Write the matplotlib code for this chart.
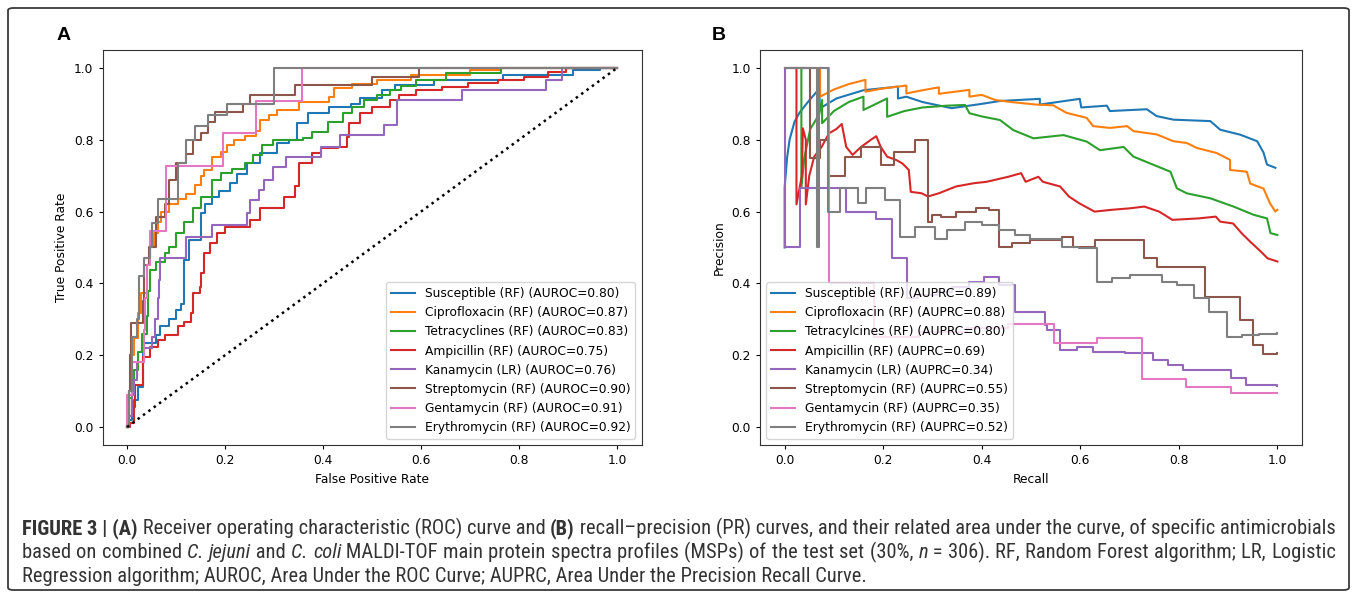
import re
import matplotlib
matplotlib.use("Agg")
import matplotlib.pyplot as plt
from matplotlib.patches import FancyBboxPatch

W, H = 1357, 598

# ---- panel A: ROC curves, (fpr, tpr) corner points
roc_names = ["Susceptible (RF)", "Ciprofloxacin (RF)", "Tetracyclines (RF)", "Ampicillin (RF)",
             "Kanamycin (LR)", "Streptomycin (RF)", "Gentamycin (RF)", "Erythromycin (RF)"]
auroc = [0.80, 0.87, 0.83, 0.75, 0.76, 0.90, 0.91, 0.92]

roc_susceptible = [(0, 0), (0.005, 0.02), (0.01, 0.04), (0.015, 0.075), (0.022, 0.112), (0.033, 0.233),
                   (0.059, 0.256), (0.068, 0.28), (0.085, 0.30), (0.10, 0.326), (0.11, 0.344), (0.117, 0.465),
                   (0.126, 0.52), (0.15, 0.595), (0.16, 0.62), (0.174, 0.642), (0.187, 0.656), (0.21, 0.68),
                   (0.225, 0.705), (0.245, 0.734), (0.272, 0.762), (0.307, 0.79), (0.33, 0.80), (0.347, 0.846),
                   (0.369, 0.874), (0.413, 0.892), (0.457, 0.90), (0.475, 0.915), (0.52, 0.939), (0.546, 0.953),
                   (0.626, 0.967), (0.767, 0.98), (0.91, 0.994), (0.966, 1.0), (1, 1)]
roc_cipro = [(0, 0), (0.005, 0.1), (0.01, 0.2), (0.015, 0.247), (0.022, 0.317), (0.028, 0.372), (0.04, 0.45),
             (0.046, 0.5), (0.055, 0.54), (0.064, 0.57), (0.07, 0.6), (0.086, 0.62), (0.104, 0.635), (0.12, 0.65),
             (0.139, 0.675), (0.15, 0.70), (0.157, 0.716), (0.174, 0.753), (0.192, 0.765), (0.205, 0.785),
             (0.219, 0.80), (0.24, 0.81), (0.263, 0.825), (0.272, 0.855), (0.29, 0.87), (0.307, 0.883),
             (0.351, 0.906), (0.413, 0.92), (0.422, 0.943), (0.46, 0.955), (0.51, 0.966), (0.58, 0.98),
             (0.70, 0.994), (0.763, 1.0), (1, 1)]
roc_tetra = [(0, 0), (0.005, 0.08), (0.01, 0.13), (0.015, 0.16), (0.022, 0.21), (0.03, 0.26), (0.04, 0.31),
             (0.043, 0.38), (0.046, 0.437), (0.06, 0.46), (0.077, 0.484), (0.086, 0.50), (0.1, 0.54),
             (0.117, 0.572), (0.135, 0.609), (0.152, 0.642), (0.174, 0.688), (0.192, 0.707), (0.215, 0.72),
             (0.24, 0.735), (0.258, 0.758), (0.275, 0.785), (0.298, 0.80), (0.36, 0.805), (0.378, 0.823),
             (0.41, 0.85), (0.44, 0.874), (0.46, 0.89), (0.484, 0.91), (0.51, 0.925), (0.537, 0.939),
             (0.56, 0.95), (0.59, 0.967), (0.652, 0.985), (0.763, 1.0), (1, 1)]
roc_ampi = [(0, 0), (0.006, 0.01), (0.015, 0.057), (0.017, 0.117), (0.033, 0.196), (0.046, 0.224),
            (0.064, 0.242), (0.077, 0.256), (0.105, 0.28), (0.117, 0.293), (0.13, 0.317), (0.135, 0.372),
            (0.148, 0.39), (0.15, 0.428), (0.157, 0.484), (0.17, 0.512), (0.183, 0.54), (0.20, 0.558),
            (0.25, 0.577), (0.272, 0.609), (0.32, 0.642), (0.342, 0.67), (0.351, 0.734), (0.378, 0.762),
            (0.396, 0.776), (0.43, 0.78), (0.449, 0.809), (0.454, 0.846), (0.475, 0.874), (0.50, 0.892),
            (0.537, 0.91), (0.555, 0.925), (0.59, 0.939), (0.643, 0.948), (0.696, 0.957), (0.758, 0.967),
            (0.81, 0.976), (0.86, 0.99), (0.896, 1.0), (1, 1)]
roc_kana = [(0, 0), (0.005, 0.03), (0.01, 0.09), (0.015, 0.13), (0.02, 0.18), (0.035, 0.22), (0.05, 0.25),
            (0.058, 0.30), (0.063, 0.36), (0.065, 0.41), (0.068, 0.47), (0.121, 0.53), (0.174, 0.563),
            (0.245, 0.595), (0.25, 0.632), (0.27, 0.66), (0.28, 0.688), (0.298, 0.725), (0.325, 0.753),
            (0.396, 0.78), (0.435, 0.813), (0.524, 0.84), (0.55, 0.911), (0.683, 0.939), (0.856, 0.967),
            (0.887, 1.0), (1, 1)]
roc_strepto = [(0, 0), (0.004, 0.1), (0.006, 0.2), (0.008, 0.29), (0.033, 0.35), (0.035, 0.45), (0.045, 0.5),
               (0.059, 0.586), (0.077, 0.62), (0.085, 0.688), (0.10, 0.735), (0.12, 0.76), (0.135, 0.80),
               (0.15, 0.82), (0.165, 0.85), (0.18, 0.878), (0.236, 0.90), (0.25, 0.925), (0.342, 0.953),
               (0.50, 0.976), (0.595, 1.0), (1, 1)]
roc_genta = [(0, 0), (0, 0.09), (0.01, 0.18), (0.035, 0.27), (0.037, 0.36), (0.04, 0.45), (0.046, 0.545),
             (0.08, 0.727), (0.196, 0.818), (0.263, 0.909), (0.358, 1.0), (1, 1)]
roc_erythro = [(0, 0), (0.005, 0.1), (0.01, 0.25), (0.02, 0.3), (0.025, 0.42), (0.035, 0.47), (0.046, 0.5),
               (0.052, 0.567), (0.064, 0.634), (0.104, 0.734), (0.12, 0.8), (0.139, 0.837), (0.165, 0.87),
               (0.205, 0.9), (0.30, 1.0), (1.0, 1.0)]
roc_curves = [roc_susceptible, roc_cipro, roc_tetra, roc_ampi, roc_kana, roc_strepto, roc_genta, roc_erythro]

# ---- panel B: precision-recall curves, (recall, precision) points
pr_names = ["Susceptible (RF)", "Ciprofloxacin (RF)", "Tetracylcines (RF)", "Ampicillin (RF)",
            "Kanamycin (LR)", "Streptomycin (RF)", "Gentamycin (RF)", "Erythromycin (RF)"]
auprc = [0.89, 0.88, 0.80, 0.69, 0.34, 0.55, 0.35, 0.52]

pr_susceptible = [(0.0, 0.5), (0.0, 0.667), (0.005, 0.75), (0.01, 0.8), (0.02, 0.85), (0.03, 0.875),
                  (0.05, 0.91), (0.071, 0.943), (0.071, 0.887), (0.105, 0.915), (0.16, 0.938), (0.23, 0.948),
                  (0.23, 0.915), (0.247, 0.92), (0.28, 0.905), (0.339, 0.888), (0.40, 0.90), (0.437, 0.908),
                  (0.518, 0.914), (0.518, 0.898), (0.599, 0.914), (0.602, 0.89), (0.654, 0.895), (0.66, 0.88),
                  (0.735, 0.885), (0.755, 0.866), (0.789, 0.856), (0.864, 0.852), (0.884, 0.828), (0.925, 0.814),
                  (0.959, 0.796), (0.972, 0.764), (0.979, 0.731), (0.996, 0.722)]
pr_cipro = [(0.072, 1.0), (0.072, 0.92), (0.10, 0.94), (0.13, 0.955), (0.164, 0.967), (0.164, 0.934),
            (0.2, 0.943), (0.247, 0.951), (0.247, 0.929), (0.28, 0.938), (0.313, 0.946), (0.313, 0.928),
            (0.375, 0.939), (0.375, 0.92), (0.40, 0.925), (0.427, 0.911), (0.46, 0.905), (0.511, 0.898),
            (0.545, 0.896), (0.572, 0.875), (0.613, 0.861), (0.626, 0.838), (0.66, 0.833), (0.695, 0.838),
            (0.708, 0.824), (0.755, 0.815), (0.789, 0.796), (0.816, 0.791), (0.837, 0.777), (0.877, 0.763),
            (0.904, 0.744), (0.904, 0.716), (0.938, 0.711), (0.945, 0.678), (0.972, 0.664), (0.985, 0.623),
            (0.996, 0.6), (1.0, 0.605)]
pr_tetra = [(0.034, 1.0), (0.034, 0.667), (0.04, 0.75), (0.052, 0.83), (0.07, 0.87), (0.076, 0.911),
            (0.076, 0.846), (0.1, 0.88), (0.13, 0.905), (0.16, 0.92), (0.16, 0.883), (0.208, 0.915),
            (0.208, 0.864), (0.243, 0.88), (0.28, 0.89), (0.33, 0.895), (0.366, 0.897), (0.375, 0.874),
            (0.40, 0.865), (0.437, 0.855), (0.464, 0.827), (0.505, 0.804), (0.566, 0.813), (0.613, 0.795),
            (0.64, 0.771), (0.688, 0.78), (0.708, 0.753), (0.749, 0.73), (0.783, 0.711), (0.796, 0.665),
            (0.816, 0.651), (0.864, 0.637), (0.911, 0.614), (0.952, 0.591), (0.979, 0.581), (0.986, 0.54),
            (1.0, 0.535)]
pr_ampi = [(0.024, 1.0), (0.024, 0.62), (0.035, 0.70), (0.037, 0.832), (0.043, 0.80), (0.043, 0.62),
           (0.05, 0.70), (0.06, 0.753), (0.075, 0.78), (0.09, 0.818), (0.105, 0.83), (0.116, 0.844),
           (0.125, 0.78), (0.138, 0.758), (0.155, 0.78), (0.175, 0.80), (0.186, 0.81), (0.195, 0.78),
           (0.208, 0.753), (0.226, 0.744), (0.239, 0.734), (0.252, 0.716), (0.256, 0.655), (0.278, 0.651),
           (0.291, 0.642), (0.313, 0.651), (0.348, 0.67), (0.384, 0.679), (0.41, 0.683), (0.454, 0.697),
           (0.48, 0.707), (0.489, 0.683), (0.515, 0.697), (0.524, 0.683), (0.559, 0.67), (0.577, 0.642),
           (0.598, 0.623), (0.629, 0.60), (0.664, 0.605), (0.70, 0.609), (0.73, 0.614), (0.76, 0.60),
           (0.787, 0.577), (0.84, 0.581), (0.875, 0.586), (0.884, 0.572), (0.91, 0.567), (0.928, 0.539),
           (0.945, 0.516), (0.967, 0.488), (0.98, 0.47), (1.0, 0.461)]
# the four below are drawn as post-steps
pr_kana = [(0.0, 1.0), (0.0, 0.5), (0.032, 0.667), (0.066, 0.667), (0.125, 0.6), (0.186, 0.58),
           (0.217, 0.47), (0.249, 0.36), (0.27, 0.367), (0.31, 0.377), (0.34, 0.39), (0.375, 0.405),
           (0.405, 0.419), (0.436, 0.396), (0.467, 0.321), (0.528, 0.284), (0.533, 0.27), (0.559, 0.214),
           (0.594, 0.224), (0.625, 0.21), (0.69, 0.205), (0.748, 0.187), (0.778, 0.173), (0.809, 0.159),
           (0.906, 0.136), (0.936, 0.117), (1.0, 0.114)]
pr_strepto = [(0.0, 1.0), (0.051, 0.75), (0.071, 0.80), (0.091, 0.70), (0.122, 0.753), (0.155, 0.78),
              (0.195, 0.73), (0.221, 0.767), (0.265, 0.80), (0.291, 0.572), (0.30, 0.59), (0.318, 0.586),
              (0.348, 0.60), (0.388, 0.609), (0.414, 0.605), (0.436, 0.502), (0.462, 0.512), (0.497, 0.521),
              (0.563, 0.53), (0.585, 0.502), (0.63, 0.521), (0.73, 0.47), (0.756, 0.447), (0.853, 0.363),
              (0.925, 0.298), (0.95, 0.228), (0.971, 0.203), (1.0, 0.205)]
pr_genta = [(0.0, 1.0), (0.0895, 0.40), (0.182, 0.25), (0.272, 0.266), (0.37, 0.275), (0.454, 0.286),
            (0.546, 0.233), (0.634, 0.249), (0.726, 0.133), (0.815, 0.112), (0.906, 0.094), (1.0, 0.094)]
pr_erythro = [(0.0, 1.0), (0.066, 0.5), (0.07, 1.0), (0.088, 0.6), (0.112, 0.667), (0.149, 0.625),
              (0.166, 0.667), (0.203, 0.632), (0.234, 0.53), (0.265, 0.558), (0.305, 0.525), (0.33, 0.549),
              (0.366, 0.572), (0.40, 0.563), (0.436, 0.549), (0.467, 0.535), (0.497, 0.525), (0.563, 0.502),
              (0.598, 0.498), (0.634, 0.405), (0.664, 0.414), (0.70, 0.423), (0.765, 0.405), (0.796, 0.395),
              (0.831, 0.358), (0.862, 0.321), (0.897, 0.252), (0.928, 0.256), (0.963, 0.26), (1.0, 0.262)]
pr_curves = [pr_susceptible, pr_cipro, pr_tetra, pr_ampi, pr_kana, pr_strepto, pr_genta, pr_erythro]
pr_steps = [False, False, False, False, True, True, True, True]

colors = ["C0", "C1", "C2", "C3", "C4", "C5", "C6", "C7"]

FS = 8.8  # the reference is a default matplotlib figure shrunk a little

plt.rcParams["font.family"] = "DejaVu Sans"
plt.rcParams["xtick.major.size"] = 3.1
plt.rcParams["ytick.major.size"] = 3.1

fig = plt.figure(figsize=(W / 100, H / 100), dpi=100)

# outer frame
fig.patches.append(FancyBboxPatch((8 / W, 8 / H), 1341 / W, 582 / H,
                                  boxstyle="round,pad=0,rounding_size=0.004",
                                  transform=fig.transFigure, facecolor="white",
                                  edgecolor="#3a3a3a", lw=1.3, zorder=-10))

axA = fig.add_axes([102.5 / W, 1 - 445 / H, 539 / W, 395 / H])
for pts, name, a, c in zip(roc_curves, roc_names, auroc, colors):
    x = [p[0] for p in pts]
    y = [p[1] for p in pts]
    axA.plot(x, y, color=c, lw=1.5, drawstyle="steps-post", label="%s (AUROC=%.2f)" % (name, a))
axA.plot([0, 1], [0, 1], "k:", lw=1.8)
axA.set_xlim(-0.05, 1.05)
axA.set_ylim(-0.05, 1.05)
axA.set_xlabel("False Positive Rate", fontsize=FS)
axA.set_ylabel("True Positive Rate", fontsize=FS)
axA.tick_params(labelsize=FS)
axA.legend(loc="lower right", fontsize=FS)

axB = fig.add_axes([760 / W, 1 - 445 / H, 542 / W, 395 / H])
for pts, name, a, c, st in zip(pr_curves, pr_names, auprc, colors, pr_steps):
    x = [p[0] for p in pts]
    y = [p[1] for p in pts]
    axB.plot(x, y, color=c, lw=1.5, drawstyle="steps-post" if st else "default",
             label="%s (AUPRC=%.2f)" % (name, a))
axB.set_xlim(-0.05, 1.05)
axB.set_ylim(-0.05, 1.05)
axB.set_xlabel("Recall", fontsize=FS)
axB.set_ylabel("Precision", fontsize=FS)
axB.tick_params(labelsize=FS)
axB.legend(loc="lower left", fontsize=FS)

for ax in (axA, axB):
    for sp in ax.spines.values():
        sp.set_color("#333333")

fig.text(57 / W, 1 - 35 / H, "A", fontsize=14, weight="bold", family="Liberation Sans", va="center")
fig.text(712 / W, 1 - 35 / H, "B", fontsize=14, weight="bold", family="Liberation Sans", va="center")

# ---- caption
cap_font = ["Roboto Condensed", "IBM Plex Sans Condensed", "DejaVu Sans"]
cap_lines = [
    [("FIGURE 3 | (A)", "bold", "normal"), (" Receiver operating characteristic (ROC) curve and ", "normal", "normal"),
     ("(B)", "bold", "normal"),
     (" recall\u2013precision (PR) curves, and their related area under the curve, of specific antimicrobials", "normal", "normal")],
    [("based on combined ", "normal", "normal"), ("C. jejuni", "normal", "italic"), (" and ", "normal", "normal"),
     ("C. coli", "normal", "italic"),
     (" MALDI-TOF main protein spectra profiles (MSPs) of the test set (30%, ", "normal", "normal"),
     ("n", "normal", "italic"), (" = 306). RF, Random Forest algorithm; LR, Logistic", "normal", "normal")],
    [("Regression algorithm; AUROC, Area Under the ROC Curve; AUPRC, Area Under the Precision Recall Curve.", "normal", "normal")],
]
cap_base = [534, 558, 582]
cap_justify = [False, True, False]
cap_left, cap_right = 22, 1336

renderer = fig.canvas.get_renderer()


def draw_runs(runs, y, size, gap=None):
    # gap: extra pixels after every space (justified line, drawn word by word)
    x = cap_left
    texts = []
    nsp = 0
    for s, wt, st in runs:
        parts = [s] if gap is None else re.findall(r"\s*\S+\s*|\s+", s)
        for part in parts:
            t = fig.text(x / W, 1 - y / H, part, fontsize=size, weight=wt, style=st,
                         family=cap_font, stretch="condensed", color="#333333", va="baseline")
            x += t.get_window_extent(renderer=renderer).width
            if gap is not None and part.endswith(" "):
                x += gap
            texts.append(t)
        nsp += len(re.findall(r" +", s.strip())) + (1 if s.endswith(" ") else 0)
    return texts, x, nsp


# size from the first line
cap_size = 10.0
for _ in range(3):
    tmp, end, _n = draw_runs(cap_lines[0], cap_base[0], cap_size)
    for t in tmp:
        t.remove()
    cap_size = cap_size * (cap_right - cap_left) / (end - cap_left)

for runs, yb, just in zip(cap_lines, cap_base, cap_justify):
    if just:
        tmp, end, nsp = draw_runs(runs, yb, cap_size, gap=0.0)
        for t in tmp:
            t.remove()
        draw_runs(runs, yb, cap_size, gap=(cap_right - end) / max(nsp, 1))
    else:
        draw_runs(runs, yb, cap_size)

fig.savefig("out.png", dpi=100)
